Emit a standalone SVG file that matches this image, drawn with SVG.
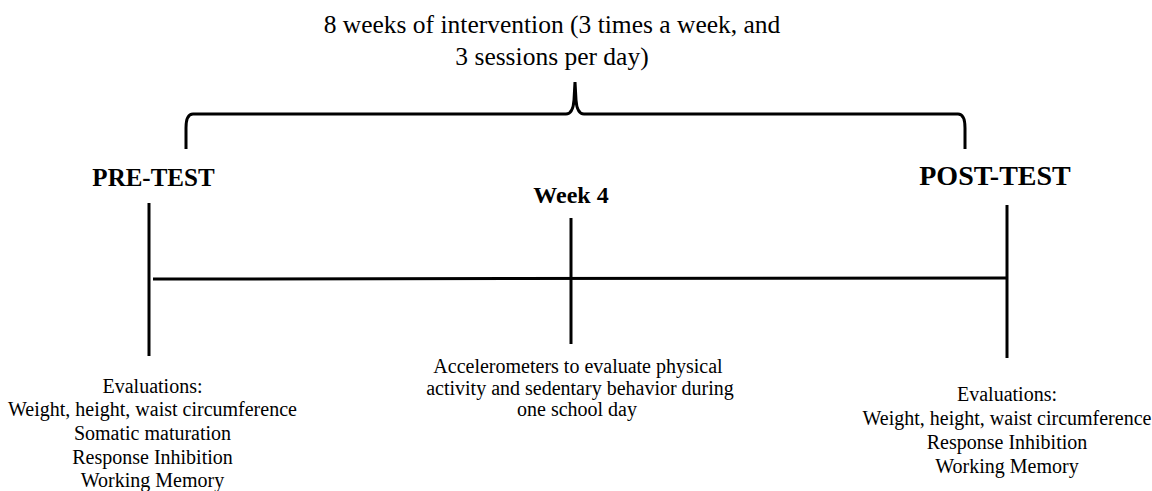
<svg xmlns="http://www.w3.org/2000/svg" width="1152" height="491" viewBox="0 0 1152 491">
<style>
  text { font-family: "Liberation Serif", "Times New Roman", serif; fill: #000; text-anchor: middle; }
  .title { font-size: 25.5px; }
  .head { font-weight: bold; }
  .body { font-size: 20px; }
  .ln { stroke: #000; stroke-width: 3; fill: none; stroke-linecap: butt; }
</style>
<rect width="1152" height="491" fill="#fff"/>
<g id="title">
  <text class="title" x="552" y="33">8 weeks of intervention (3 times a week, and</text>
  <text class="title" x="552" y="65">3 sessions per day)</text>
</g>
<g id="connectors">
  <path id="brace" class="ln" stroke-width="2.5" d="M186,149 L186,128 Q186,114 193,114 L566,114 Q573,114 574,100 L575,82 L576,100 Q577,114 584,114 L958,114 Q965,114 965,128 L965,149"/>
  <line class="ln" x1="153" y1="279" x2="1007" y2="278"/>
</g>
<g id="pretest">
  <text class="head" font-size="25" x="153.5" y="186">PRE-TEST</text>
  <line class="ln" x1="149" y1="203" x2="149" y2="356"/>
  <text class="body" x="152.5" y="393">Evaluations:</text>
  <text class="body" x="152.5" y="416">Weight, height, waist circumference</text>
  <text class="body" x="152.5" y="440">Somatic maturation</text>
  <text class="body" x="152.5" y="464">Response Inhibition</text>
  <text class="body" x="152.5" y="487">Working Memory</text>
</g>
<g id="week4">
  <text class="head" font-size="24" x="571" y="203">Week 4</text>
  <line class="ln" x1="571" y1="218" x2="571" y2="344"/>
  <text class="body" x="578" y="373">Accelerometers to evaluate physical</text>
  <text class="body" x="580" y="395">activity and sedentary behavior during</text>
  <text class="body" x="577" y="416">one school day</text>
</g>
<g id="posttest">
  <text class="head" font-size="28" x="995" y="185">POST-TEST</text>
  <line class="ln" x1="1007" y1="205" x2="1007" y2="358"/>
  <text class="body" x="1007" y="401">Evaluations:</text>
  <text class="body" x="1007" y="425">Weight, height, waist circumference</text>
  <text class="body" x="1007" y="449">Response Inhibition</text>
  <text class="body" x="1007" y="473">Working Memory</text>
</g>
</svg>
